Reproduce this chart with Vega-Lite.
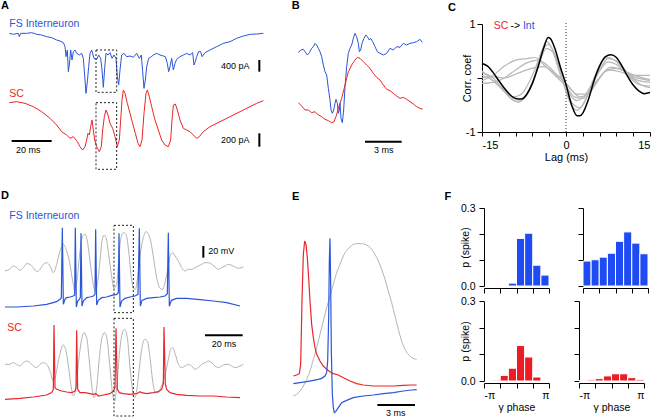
{
"$schema": "https://vega.github.io/schema/vega-lite/v6.json",
"padding": 0,
"background": "white",
"config": {"view": {"stroke": null}, "font": "Liberation Sans",
  "axis": {"domainColor": "black", "tickColor": "black", "labelColor": "black", "titleColor": "black", "grid": false, "labelFontSize": 11, "titleFontSize": 11, "titleFontWeight": "normal", "domainWidth": 1, "tickWidth": 1},
  "title": {"color": "black"}},
"spacing": 0,
"vconcat": [
{"hconcat": [
 {"width": 280, "height": 166,
  "encoding": {
   "x": {"field": "x", "type": "quantitative", "scale": {"domain": [0, 840], "nice": false, "zero": false}, "axis": null},
   "y": {"field": "y", "type": "quantitative", "scale": {"domain": [72, 570], "nice": false, "zero": false, "reverse": true}, "axis": null}},
  "layer": [
   {"data": {"values": [
    {"s":"int","x":28,"y":100},{"s":"int","x":40,"y":103},{"s":"int","x":55,"y":100},{"s":"int","x":58,"y":110},{"s":"int","x":62,"y":100},{"s":"int","x":80,"y":100},{"s":"int","x":95,"y":98},{"s":"int","x":110,"y":103},{"s":"int","x":125,"y":105},{"s":"int","x":140,"y":110},{"s":"int","x":155,"y":113},{"s":"int","x":170,"y":120},{"s":"int","x":180,"y":123},{"s":"int","x":190,"y":128},{"s":"int","x":195,"y":140},{"s":"int","x":198,"y":170},{"s":"int","x":202,"y":150},{"s":"int","x":205,"y":215},{"s":"int","x":208,"y":195},{"s":"int","x":212,"y":150},{"s":"int","x":216,"y":180},{"s":"int","x":220,"y":155},{"s":"int","x":225,"y":150},{"s":"int","x":230,"y":160},{"s":"int","x":238,"y":165},{"s":"int","x":245,"y":160},{"s":"int","x":250,"y":175},{"s":"int","x":255,"y":240},{"s":"int","x":258,"y":280},{"s":"int","x":262,"y":245},{"s":"int","x":266,"y":200},{"s":"int","x":270,"y":160},{"s":"int","x":275,"y":150},{"s":"int","x":282,"y":175},{"s":"int","x":290,"y":178},{"s":"int","x":296,"y":165},{"s":"int","x":302,"y":175},{"s":"int","x":306,"y":210},{"s":"int","x":310,"y":262},{"s":"int","x":314,"y":205},{"s":"int","x":318,"y":160},{"s":"int","x":324,"y":165},{"s":"int","x":330,"y":158},{"s":"int","x":336,"y":175},{"s":"int","x":342,"y":165},{"s":"int","x":348,"y":175},{"s":"int","x":352,"y":230},{"s":"int","x":356,"y":255},{"s":"int","x":360,"y":210},{"s":"int","x":365,"y":165},{"s":"int","x":372,"y":160},{"s":"int","x":380,"y":170},{"s":"int","x":390,"y":168},{"s":"int","x":400,"y":172},{"s":"int","x":410,"y":160},{"s":"int","x":418,"y":175},{"s":"int","x":424,"y":165},{"s":"int","x":428,"y":215},{"s":"int","x":432,"y":265},{"s":"int","x":436,"y":240},{"s":"int","x":440,"y":200},{"s":"int","x":446,"y":175},{"s":"int","x":454,"y":170},{"s":"int","x":460,"y":165},{"s":"int","x":470,"y":160},{"s":"int","x":480,"y":165},{"s":"int","x":490,"y":168},{"s":"int","x":496,"y":170},{"s":"int","x":502,"y":190},{"s":"int","x":506,"y":215},{"s":"int","x":510,"y":200},{"s":"int","x":515,"y":175},{"s":"int","x":520,"y":210},{"s":"int","x":525,"y":190},{"s":"int","x":530,"y":178},{"s":"int","x":540,"y":170},{"s":"int","x":550,"y":165},{"s":"int","x":560,"y":160},{"s":"int","x":570,"y":165},{"s":"int","x":578,"y":158},{"s":"int","x":582,"y":195},{"s":"int","x":586,"y":185},{"s":"int","x":590,"y":170},{"s":"int","x":596,"y":155},{"s":"int","x":602,"y":155},{"s":"int","x":606,"y":170},{"s":"int","x":615,"y":158},{"s":"int","x":630,"y":150},{"s":"int","x":650,"y":140},{"s":"int","x":670,"y":130},{"s":"int","x":690,"y":125},{"s":"int","x":710,"y":115},{"s":"int","x":730,"y":108},{"s":"int","x":750,"y":103},{"s":"int","x":770,"y":102},{"s":"int","x":790,"y":100},
    {"s":"sc","x":28,"y":308},{"s":"sc","x":50,"y":305},{"s":"sc","x":75,"y":310},{"s":"sc","x":100,"y":320},{"s":"sc","x":125,"y":335},{"s":"sc","x":150,"y":355},{"s":"sc","x":170,"y":375},{"s":"sc","x":185,"y":395},{"s":"sc","x":200,"y":405},{"s":"sc","x":210,"y":415},{"s":"sc","x":220,"y":410},{"s":"sc","x":232,"y":425},{"s":"sc","x":240,"y":440},{"s":"sc","x":248,"y":450},{"s":"sc","x":255,"y":440},{"s":"sc","x":260,"y":420},{"s":"sc","x":264,"y":400},{"s":"sc","x":268,"y":405},{"s":"sc","x":272,"y":380},{"s":"sc","x":276,"y":360},{"s":"sc","x":280,"y":390},{"s":"sc","x":284,"y":420},{"s":"sc","x":290,"y":440},{"s":"sc","x":298,"y":455},{"s":"sc","x":304,"y":440},{"s":"sc","x":308,"y":390},{"s":"sc","x":313,"y":350},{"s":"sc","x":318,"y":330},{"s":"sc","x":324,"y":345},{"s":"sc","x":330,"y":370},{"s":"sc","x":338,"y":385},{"s":"sc","x":345,"y":410},{"s":"sc","x":352,"y":440},{"s":"sc","x":358,"y":420},{"s":"sc","x":362,"y":360},{"s":"sc","x":366,"y":300},{"s":"sc","x":370,"y":270},{"s":"sc","x":375,"y":280},{"s":"sc","x":382,"y":310},{"s":"sc","x":390,"y":340},{"s":"sc","x":398,"y":370},{"s":"sc","x":406,"y":400},{"s":"sc","x":414,"y":430},{"s":"sc","x":420,"y":440},{"s":"sc","x":426,"y":420},{"s":"sc","x":432,"y":340},{"s":"sc","x":438,"y":280},{"s":"sc","x":442,"y":270},{"s":"sc","x":448,"y":290},{"s":"sc","x":455,"y":320},{"s":"sc","x":465,"y":360},{"s":"sc","x":475,"y":390},{"s":"sc","x":485,"y":420},{"s":"sc","x":495,"y":435},{"s":"sc","x":505,"y":440},{"s":"sc","x":512,"y":420},{"s":"sc","x":516,"y":360},{"s":"sc","x":520,"y":315},{"s":"sc","x":526,"y":312},{"s":"sc","x":532,"y":330},{"s":"sc","x":540,"y":360},{"s":"sc","x":550,"y":385},{"s":"sc","x":560,"y":390},{"s":"sc","x":570,"y":395},{"s":"sc","x":580,"y":405},{"s":"sc","x":590,"y":415},{"s":"sc","x":598,"y":410},{"s":"sc","x":610,"y":395},{"s":"sc","x":630,"y":380},{"s":"sc","x":660,"y":365},{"s":"sc","x":690,"y":350},{"s":"sc","x":720,"y":335},{"s":"sc","x":750,"y":320},{"s":"sc","x":770,"y":310},{"s":"sc","x":790,"y":302}
   ]},
    "mark": {"type": "line", "strokeWidth": 1},
    "encoding": {"detail": {"field": "s"}, "color": {"field": "s", "type": "nominal", "scale": {"domain": ["int","sc","k","lfp"], "range": ["#2b55d9","#e8262b","#000000","#b3b3b3"]}, "legend": null}}},
   {"data": {"values": [{"x":288,"x2":350,"y":150,"y2":277},{"x":288,"x2":350,"y":308,"y2":508}]},
    "mark": {"type": "rect", "fillOpacity": 0, "stroke": "#222222", "strokeWidth": 1, "strokeDash": [2,2]},
    "encoding": {"x2": {"field": "x2"}, "y2": {"field": "y2"}}},
   {"data": {"values": [{"x":35,"x2":155,"y":423,"y2":423},{"x":778,"x2":778,"y":180,"y2":215},{"x":778,"x2":778,"y":400,"y2":440}]},
    "mark": {"type": "rule", "strokeWidth": 2, "color": "black"},
    "encoding": {"x2": {"field": "x2"}, "y2": {"field": "y2"}}},
   {"data": {"values": [{"x":28,"y":72,"t":"FS Interneuron","s":"int"},{"x":28,"y":282,"t":"SC","s":"sc"}]},
    "mark": {"type": "text", "align": "left", "baseline": "middle", "fontSize": 10.5},
    "encoding": {"text": {"field": "t"}, "color": {"field": "s", "type": "nominal", "legend": null}}},
   {"data": {"values": [{"x":48,"y":450,"t":"20 ms"},{"x":663,"y":197,"t":"400 pA"},{"x":663,"y":420,"t":"200 pA"}]},
    "mark": {"type": "text", "align": "left", "baseline": "middle", "fontSize": 9, "color": "black"},
    "encoding": {"text": {"field": "t"}}},
   {"data": {"values": [{"x":3,"y":18,"t":"A"}]},
    "mark": {"type": "text", "align": "left", "baseline": "middle", "fontSize": 11, "fontWeight": "bold", "color": "black"},
    "encoding": {"text": {"field": "t"}}}
  ]},
 {"width": 168, "height": 166,
  "encoding": {
   "x": {"field": "x", "type": "quantitative", "scale": {"domain": [0, 504], "nice": false, "zero": false}, "axis": null},
   "y": {"field": "y", "type": "quantitative", "scale": {"domain": [72, 570], "nice": false, "zero": false, "reverse": true}, "axis": null}},
  "layer": [
   {"data": {"values": [
    {"s":"int","x":55,"y":158},{"s":"int","x":62,"y":150},{"s":"int","x":70,"y":148},{"s":"int","x":75,"y":155},{"s":"int","x":82,"y":165},{"s":"int","x":88,"y":158},{"s":"int","x":95,"y":145},{"s":"int","x":100,"y":140},{"s":"int","x":105,"y":130},{"s":"int","x":110,"y":135},{"s":"int","x":115,"y":145},{"s":"int","x":120,"y":155},{"s":"int","x":125,"y":170},{"s":"int","x":130,"y":195},{"s":"int","x":135,"y":215},{"s":"int","x":140,"y":225},{"s":"int","x":145,"y":265},{"s":"int","x":150,"y":300},{"s":"int","x":153,"y":330},{"s":"int","x":157,"y":340},{"s":"int","x":161,"y":330},{"s":"int","x":165,"y":310},{"s":"int","x":168,"y":298},{"s":"int","x":172,"y":310},{"s":"int","x":175,"y":340},{"s":"int","x":178,"y":330},{"s":"int","x":180,"y":310},{"s":"int","x":183,"y":355},{"s":"int","x":187,"y":368},{"s":"int","x":191,"y":330},{"s":"int","x":195,"y":260},{"s":"int","x":200,"y":200},{"s":"int","x":205,"y":160},{"s":"int","x":210,"y":145},{"s":"int","x":215,"y":135},{"s":"int","x":220,"y":115},{"s":"int","x":225,"y":100},{"s":"int","x":230,"y":110},{"s":"int","x":235,"y":130},{"s":"int","x":238,"y":155},{"s":"int","x":242,"y":150},{"s":"int","x":246,"y":130},{"s":"int","x":252,"y":115},{"s":"int","x":258,"y":105},{"s":"int","x":262,"y":110},{"s":"int","x":268,"y":120},{"s":"int","x":272,"y":115},{"s":"int","x":278,"y":125},{"s":"int","x":285,"y":140},{"s":"int","x":292,"y":155},{"s":"int","x":300,"y":160},{"s":"int","x":310,"y":165},{"s":"int","x":320,"y":160},{"s":"int","x":330,"y":145},{"s":"int","x":340,"y":150},{"s":"int","x":350,"y":140},{"s":"int","x":360,"y":142},{"s":"int","x":370,"y":130},{"s":"int","x":380,"y":135},{"s":"int","x":390,"y":130},{"s":"int","x":400,"y":128},{"s":"int","x":410,"y":125},{"s":"int","x":420,"y":118},{"s":"int","x":427,"y":127},
    {"s":"sc","x":55,"y":308},{"s":"sc","x":65,"y":318},{"s":"sc","x":75,"y":330},{"s":"sc","x":85,"y":330},{"s":"sc","x":95,"y":338},{"s":"sc","x":105,"y":335},{"s":"sc","x":115,"y":345},{"s":"sc","x":125,"y":350},{"s":"sc","x":135,"y":358},{"s":"sc","x":145,"y":362},{"s":"sc","x":155,"y":368},{"s":"sc","x":162,"y":365},{"s":"sc","x":168,"y":350},{"s":"sc","x":175,"y":325},{"s":"sc","x":185,"y":295},{"s":"sc","x":195,"y":255},{"s":"sc","x":205,"y":215},{"s":"sc","x":215,"y":195},{"s":"sc","x":225,"y":180},{"s":"sc","x":232,"y":172},{"s":"sc","x":240,"y":175},{"s":"sc","x":250,"y":185},{"s":"sc","x":260,"y":195},{"s":"sc","x":270,"y":205},{"s":"sc","x":280,"y":220},{"s":"sc","x":290,"y":232},{"s":"sc","x":300,"y":240},{"s":"sc","x":310,"y":255},{"s":"sc","x":320,"y":268},{"s":"sc","x":330,"y":272},{"s":"sc","x":340,"y":280},{"s":"sc","x":350,"y":288},{"s":"sc","x":360,"y":295},{"s":"sc","x":370,"y":292},{"s":"sc","x":380,"y":298},{"s":"sc","x":390,"y":305},{"s":"sc","x":400,"y":312},{"s":"sc","x":410,"y":320},{"s":"sc","x":420,"y":325},{"s":"sc","x":428,"y":327}
   ]},
    "mark": {"type": "line", "strokeWidth": 1},
    "encoding": {"detail": {"field": "s"}, "color": {"field": "s", "type": "nominal", "scale": {"domain": ["int","sc"], "range": ["#2b55d9","#e8262b"]}, "legend": null}}},
   {"data": {"values": [{"x":255,"x2":365,"y":425,"y2":425}]},
    "mark": {"type": "rule", "strokeWidth": 2, "color": "black"},
    "encoding": {"x2": {"field": "x2"}, "y2": {"field": "y2"}}},
   {"data": {"values": [{"x":282,"y":450,"t":"3 ms"}]},
    "mark": {"type": "text", "align": "left", "baseline": "middle", "fontSize": 9, "color": "black"},
    "encoding": {"text": {"field": "t"}}},
   {"data": {"values": [{"x":35,"y":18,"t":"B"}]},
    "mark": {"type": "text", "align": "left", "baseline": "middle", "fontSize": 11, "fontWeight": "bold", "color": "black"},
    "encoding": {"text": {"field": "t"}}}
  ]},
 {"width": 168, "height": 108,
  "title": {"text": "C", "anchor": "start", "frame": "group", "dx": -34, "offset": 5, "fontSize": 11, "fontWeight": "bold", "color": "black"},
  "encoding": {
   "x": {"field": "x", "type": "quantitative", "scale": {"domain": [-15, 15], "nice": false, "zero": false},
     "axis": {"values": [-15,-12,-9,-6,-3,0,3,6,9,12,15], "labelExpr": "datum.value == -15 ? '-15' : datum.value == 0 ? '0' : datum.value == 15 ? '15' : ''", "title": "Lag (ms)", "tickSize": 4, "labelPadding": 3, "titlePadding": 1, "labelFontSize": 11, "titleFontSize": 11}},
   "y": {"field": "y", "type": "quantitative", "scale": {"domain": [-1, 1], "nice": false, "zero": false},
     "axis": {"values": [-1, 0, 1], "labelExpr": "datum.value == 1 ? '1' : datum.value == -1 ? '-1' : ''", "title": "Corr. coef", "tickSize": 5, "labelPadding": 2, "titlePadding": -7, "labelFontSize": 11, "titleFontSize": 11}}},
  "layer": [
   {"data": {"values": [{"x":0,"y":-1,"y2":1.04}]},
    "mark": {"type": "rule", "strokeWidth": 1, "strokeDash": [1,2], "color": "#333333"},
    "encoding": {"y2": {"field": "y2"}}},
   {"data": {"values": [
    {"s":"g1","x":-15,"y":0.10},{"s":"g1","x":-13,"y":0.0},{"s":"g1","x":-11,"y":-0.25},{"s":"g1","x":-9,"y":-0.43},{"s":"g1","x":-8,"y":-0.42},{"s":"g1","x":-6,"y":-0.1},{"s":"g1","x":-4.5,"y":0.45},{"s":"g1","x":-3.5,"y":0.68},{"s":"g1","x":-2.5,"y":0.55},{"s":"g1","x":-1,"y":0.1},{"s":"g1","x":0.5,"y":-0.4},{"s":"g1","x":2,"y":-0.6},{"s":"g1","x":3.5,"y":-0.4},{"s":"g1","x":5,"y":0.0},{"s":"g1","x":6.5,"y":0.32},{"s":"g1","x":7.5,"y":0.38},{"s":"g1","x":9,"y":0.30},{"s":"g1","x":11,"y":0.05},{"s":"g1","x":13,"y":-0.12},{"s":"g1","x":15,"y":-0.15},
    {"s":"g2","x":-15,"y":0.05},{"s":"g2","x":-13,"y":-0.05},{"s":"g2","x":-11,"y":-0.22},{"s":"g2","x":-9.5,"y":-0.35},{"s":"g2","x":-8,"y":-0.30},{"s":"g2","x":-6,"y":0.05},{"s":"g2","x":-4,"y":0.55},{"s":"g2","x":-3.2,"y":0.62},{"s":"g2","x":-2,"y":0.45},{"s":"g2","x":-0.5,"y":0.0},{"s":"g2","x":1,"y":-0.35},{"s":"g2","x":2,"y":-0.42},{"s":"g2","x":3.5,"y":-0.30},{"s":"g2","x":5.5,"y":0.05},{"s":"g2","x":7.5,"y":0.30},{"s":"g2","x":9,"y":0.25},{"s":"g2","x":11,"y":0.05},{"s":"g2","x":13,"y":-0.05},{"s":"g2","x":15,"y":-0.08},
    {"s":"g3","x":-15,"y":-0.05},{"s":"g3","x":-13,"y":0.05},{"s":"g3","x":-11,"y":0.22},{"s":"g3","x":-9,"y":0.33},{"s":"g3","x":-7,"y":0.36},{"s":"g3","x":-5.5,"y":0.38},{"s":"g3","x":-4,"y":0.25},{"s":"g3","x":-2,"y":0.05},{"s":"g3","x":0,"y":-0.15},{"s":"g3","x":1.5,"y":-0.35},{"s":"g3","x":3,"y":-0.38},{"s":"g3","x":5,"y":-0.15},{"s":"g3","x":7,"y":0.12},{"s":"g3","x":9,"y":0.18},{"s":"g3","x":11,"y":0.10},{"s":"g3","x":13,"y":0.02},{"s":"g3","x":15,"y":-0.03},
    {"s":"g4","x":-15,"y":-0.1},{"s":"g4","x":-13,"y":-0.08},{"s":"g4","x":-11,"y":0.0},{"s":"g4","x":-9,"y":0.15},{"s":"g4","x":-7,"y":0.28},{"s":"g4","x":-5,"y":0.33},{"s":"g4","x":-3.5,"y":0.25},{"s":"g4","x":-2,"y":0.1},{"s":"g4","x":0,"y":-0.1},{"s":"g4","x":2,"y":-0.30},{"s":"g4","x":3.5,"y":-0.30},{"s":"g4","x":5.5,"y":-0.05},{"s":"g4","x":7.5,"y":0.15},{"s":"g4","x":9.5,"y":0.12},{"s":"g4","x":12,"y":0.02},{"s":"g4","x":15,"y":-0.05},
    {"s":"g5","x":-15,"y":0.0},{"s":"g5","x":-13,"y":0.02},{"s":"g5","x":-11,"y":0.0},{"s":"g5","x":-9,"y":0.07},{"s":"g5","x":-7,"y":0.15},{"s":"g5","x":-4,"y":0.21},{"s":"g5","x":-2,"y":0.08},{"s":"g5","x":0,"y":-0.10},{"s":"g5","x":2.5,"y":-0.35},{"s":"g5","x":4,"y":-0.30},{"s":"g5","x":6,"y":0.0},{"s":"g5","x":8,"y":0.2},{"s":"g5","x":10,"y":0.15},{"s":"g5","x":12,"y":0.05},{"s":"g5","x":15,"y":0.05},
    {"s":"g6","x":-15,"y":0.13},{"s":"g6","x":-12,"y":-0.15},{"s":"g6","x":-10,"y":-0.35},{"s":"g6","x":-8.5,"y":-0.45},{"s":"g6","x":-7,"y":-0.30},{"s":"g6","x":-5,"y":0.20},{"s":"g6","x":-3.5,"y":0.55},{"s":"g6","x":-2.5,"y":0.50},{"s":"g6","x":-1,"y":0.05},{"s":"g6","x":1,"y":-0.45},{"s":"g6","x":2.5,"y":-0.55},{"s":"g6","x":4,"y":-0.3},{"s":"g6","x":6,"y":0.15},{"s":"g6","x":7.5,"y":0.36},{"s":"g6","x":9,"y":0.32},{"s":"g6","x":11,"y":0.10},{"s":"g6","x":13,"y":-0.10},{"s":"g6","x":15,"y":-0.18}
   ]},
    "mark": {"type": "line", "strokeWidth": 1.2, "color": "#b8b8b8", "interpolate": "monotone"},
    "encoding": {"detail": {"field": "s"}}},
   {"data": {"values": [
    {"x":-15,"y":0.27},{"x":-14,"y":0.22},{"x":-13,"y":0.10},{"x":-12,"y":-0.05},{"x":-11,"y":-0.19},{"x":-10,"y":-0.31},{"x":-9,"y":-0.38},{"x":-8,"y":-0.39},{"x":-7,"y":-0.30},{"x":-6,"y":-0.10},{"x":-5,"y":0.20},{"x":-4,"y":0.55},{"x":-3.2,"y":0.75},{"x":-2.8,"y":0.73},{"x":-2,"y":0.55},{"x":-1,"y":0.20},{"x":0,"y":-0.12},{"x":1,"y":-0.50},{"x":2,"y":-0.70},{"x":2.5,"y":-0.70},{"x":3,"y":-0.65},{"x":4,"y":-0.40},{"x":5,"y":-0.05},{"x":6,"y":0.22},{"x":7,"y":0.39},{"x":8,"y":0.43},{"x":9,"y":0.38},{"x":10,"y":0.22},{"x":11,"y":0.03},{"x":12,"y":-0.13},{"x":13,"y":-0.24},{"x":14,"y":-0.29},{"x":15,"y":-0.27}
   ]},
    "mark": {"type": "line", "strokeWidth": 1.5, "color": "black", "interpolate": "monotone"}},
   {"data": {"values": [{"x":-12.9,"y":0.96,"t":"SC","s":"sc"},{"x":-9.9,"y":0.96,"t":"->","s":"k"},{"x":-7.7,"y":0.96,"t":"Int","s":"int"}]},
    "mark": {"type": "text", "align": "left", "baseline": "middle", "fontSize": 10.5},
    "encoding": {"text": {"field": "t"}, "color": {"field": "s", "type": "nominal", "scale": {"domain": ["sc","k","int"], "range": ["#e8262b","#000000","#2b55d9"]}, "legend": null}}}
  ]}
 ], "spacing": 0},
{"hconcat": [
 {"width": 280, "height": 210,
  "encoding": {
   "x": {"field": "x", "type": "quantitative", "scale": {"domain": [0, 840], "nice": false, "zero": false}, "axis": null},
   "y": {"field": "y", "type": "quantitative", "scale": {"domain": [21, 651], "nice": false, "zero": false, "reverse": true}, "axis": null}},
  "layer": [
   {"data": {"values": [
    {"s":"l1","x":15,"y":210},{"s":"l1","x":28,"y":205},{"s":"l1","x":40,"y":195},{"s":"l1","x":50,"y":200},{"s":"l1","x":60,"y":208},{"s":"l1","x":70,"y":200},{"s":"l1","x":80,"y":188},{"s":"l1","x":90,"y":190},{"s":"l1","x":100,"y":200},{"s":"l1","x":110,"y":212},{"s":"l1","x":120,"y":205},{"s":"l1","x":130,"y":190},{"s":"l1","x":140,"y":185},{"s":"l1","x":150,"y":195},{"s":"l1","x":160,"y":215},{"s":"l1","x":170,"y":190},{"s":"l1","x":180,"y":150},{"s":"l1","x":190,"y":130},{"s":"l1","x":200,"y":150},{"s":"l1","x":210,"y":190},{"s":"l1","x":218,"y":240},{"s":"l1","x":225,"y":270},{"s":"l1","x":232,"y":230},{"s":"l1","x":240,"y":150},{"s":"l1","x":248,"y":105},{"s":"l1","x":255,"y":100},{"s":"l1","x":262,"y":120},{"s":"l1","x":270,"y":180},{"s":"l1","x":278,"y":240},{"s":"l1","x":285,"y":268},{"s":"l1","x":292,"y":250},{"s":"l1","x":300,"y":180},{"s":"l1","x":306,"y":120},{"s":"l1","x":312,"y":103},{"s":"l1","x":318,"y":110},{"s":"l1","x":326,"y":160},{"s":"l1","x":334,"y":220},{"s":"l1","x":342,"y":262},{"s":"l1","x":350,"y":250},{"s":"l1","x":356,"y":180},{"s":"l1","x":362,"y":115},{"s":"l1","x":370,"y":95},{"s":"l1","x":378,"y":100},{"s":"l1","x":386,"y":150},{"s":"l1","x":394,"y":230},{"s":"l1","x":400,"y":262},{"s":"l1","x":406,"y":265},{"s":"l1","x":414,"y":220},{"s":"l1","x":422,"y":150},{"s":"l1","x":430,"y":110},{"s":"l1","x":438,"y":92},{"s":"l1","x":446,"y":100},{"s":"l1","x":454,"y":130},{"s":"l1","x":462,"y":180},{"s":"l1","x":470,"y":230},{"s":"l1","x":480,"y":262},{"s":"l1","x":488,"y":265},{"s":"l1","x":496,"y":240},{"s":"l1","x":504,"y":200},{"s":"l1","x":512,"y":160},{"s":"l1","x":518,"y":155},{"s":"l1","x":525,"y":165},{"s":"l1","x":535,"y":180},{"s":"l1","x":545,"y":200},{"s":"l1","x":555,"y":210},{"s":"l1","x":565,"y":205},{"s":"l1","x":575,"y":205},{"s":"l1","x":585,"y":200},{"s":"l1","x":595,"y":195},{"s":"l1","x":605,"y":190},{"s":"l1","x":615,"y":185},{"s":"l1","x":625,"y":185},{"s":"l1","x":635,"y":190},{"s":"l1","x":645,"y":198},{"s":"l1","x":655,"y":205},{"s":"l1","x":665,"y":200},{"s":"l1","x":675,"y":195},{"s":"l1","x":685,"y":190},{"s":"l1","x":695,"y":193},{"s":"l1","x":705,"y":198},{"s":"l1","x":715,"y":202},{"s":"l1","x":730,"y":198},
    {"s":"l2","x":15,"y":490},{"s":"l2","x":28,"y":490},{"s":"l2","x":40,"y":485},{"s":"l2","x":50,"y":490},{"s":"l2","x":60,"y":495},{"s":"l2","x":70,"y":485},{"s":"l2","x":80,"y":480},{"s":"l2","x":90,"y":485},{"s":"l2","x":100,"y":495},{"s":"l2","x":110,"y":500},{"s":"l2","x":120,"y":490},{"s":"l2","x":130,"y":485},{"s":"l2","x":140,"y":490},{"s":"l2","x":150,"y":510},{"s":"l2","x":160,"y":540},{"s":"l2","x":168,"y":520},{"s":"l2","x":175,"y":480},{"s":"l2","x":182,"y":450},{"s":"l2","x":190,"y":432},{"s":"l2","x":198,"y":450},{"s":"l2","x":206,"y":500},{"s":"l2","x":214,"y":560},{"s":"l2","x":220,"y":585},{"s":"l2","x":228,"y":560},{"s":"l2","x":236,"y":480},{"s":"l2","x":244,"y":420},{"s":"l2","x":252,"y":395},{"s":"l2","x":260,"y":410},{"s":"l2","x":268,"y":480},{"s":"l2","x":276,"y":560},{"s":"l2","x":282,"y":590},{"s":"l2","x":290,"y":560},{"s":"l2","x":298,"y":470},{"s":"l2","x":306,"y":410},{"s":"l2","x":314,"y":395},{"s":"l2","x":322,"y":420},{"s":"l2","x":330,"y":500},{"s":"l2","x":338,"y":580},{"s":"l2","x":344,"y":600},{"s":"l2","x":350,"y":560},{"s":"l2","x":358,"y":460},{"s":"l2","x":366,"y":400},{"s":"l2","x":374,"y":385},{"s":"l2","x":382,"y":410},{"s":"l2","x":390,"y":500},{"s":"l2","x":398,"y":570},{"s":"l2","x":404,"y":590},{"s":"l2","x":410,"y":570},{"s":"l2","x":418,"y":500},{"s":"l2","x":426,"y":440},{"s":"l2","x":434,"y":415},{"s":"l2","x":442,"y":420},{"s":"l2","x":450,"y":470},{"s":"l2","x":458,"y":540},{"s":"l2","x":466,"y":575},{"s":"l2","x":474,"y":575},{"s":"l2","x":482,"y":560},{"s":"l2","x":490,"y":540},{"s":"l2","x":498,"y":510},{"s":"l2","x":506,"y":470},{"s":"l2","x":512,"y":445},{"s":"l2","x":518,"y":440},{"s":"l2","x":526,"y":460},{"s":"l2","x":535,"y":490},{"s":"l2","x":545,"y":500},{"s":"l2","x":555,"y":495},{"s":"l2","x":565,"y":490},{"s":"l2","x":575,"y":495},{"s":"l2","x":585,"y":505},{"s":"l2","x":595,"y":500},{"s":"l2","x":605,"y":490},{"s":"l2","x":615,"y":485},{"s":"l2","x":625,"y":480},{"s":"l2","x":635,"y":485},{"s":"l2","x":645,"y":495},{"s":"l2","x":655,"y":500},{"s":"l2","x":665,"y":495},{"s":"l2","x":675,"y":490},{"s":"l2","x":685,"y":490},{"s":"l2","x":695,"y":495},{"s":"l2","x":705,"y":500},{"s":"l2","x":720,"y":495},{"s":"l2","x":730,"y":490}
   ]},
    "mark": {"type": "line", "strokeWidth": 1, "color": "#b3b3b3", "interpolate": "monotone"},
    "encoding": {"detail": {"field": "s"}}},
   {"data": {"values": [
    {"s":"int","x":15,"y":318},{"s":"int","x":50,"y":318},{"s":"int","x":100,"y":315},{"s":"int","x":140,"y":310},{"s":"int","x":170,"y":302},{"s":"int","x":180,"y":295},{"s":"int","x":184,"y":290},{"s":"int","x":187,"y":80},{"s":"int","x":190,"y":310},{"s":"int","x":195,"y":295},{"s":"int","x":200,"y":290},{"s":"int","x":210,"y":288},{"s":"int","x":220,"y":285},{"s":"int","x":224,"y":282},{"s":"int","x":226,"y":80},{"s":"int","x":229,"y":318},{"s":"int","x":233,"y":300},{"s":"int","x":238,"y":295},{"s":"int","x":241,"y":290},{"s":"int","x":243,"y":97},{"s":"int","x":246,"y":315},{"s":"int","x":250,"y":300},{"s":"int","x":260,"y":290},{"s":"int","x":270,"y":288},{"s":"int","x":280,"y":285},{"s":"int","x":285,"y":280},{"s":"int","x":287,"y":85},{"s":"int","x":290,"y":312},{"s":"int","x":295,"y":298},{"s":"int","x":305,"y":290},{"s":"int","x":320,"y":288},{"s":"int","x":335,"y":283},{"s":"int","x":350,"y":280},{"s":"int","x":355,"y":275},{"s":"int","x":357,"y":97},{"s":"int","x":360,"y":318},{"s":"int","x":365,"y":300},{"s":"int","x":375,"y":292},{"s":"int","x":390,"y":288},{"s":"int","x":405,"y":285},{"s":"int","x":414,"y":280},{"s":"int","x":418,"y":82},{"s":"int","x":421,"y":315},{"s":"int","x":426,"y":298},{"s":"int","x":440,"y":292},{"s":"int","x":460,"y":290},{"s":"int","x":480,"y":288},{"s":"int","x":495,"y":285},{"s":"int","x":502,"y":278},{"s":"int","x":505,"y":95},{"s":"int","x":508,"y":316},{"s":"int","x":514,"y":298},{"s":"int","x":530,"y":292},{"s":"int","x":560,"y":292},{"s":"int","x":600,"y":296},{"s":"int","x":640,"y":300},{"s":"int","x":680,"y":305},{"s":"int","x":720,"y":315},
    {"s":"sc","x":15,"y":595},{"s":"sc","x":60,"y":592},{"s":"sc","x":100,"y":588},{"s":"sc","x":140,"y":582},{"s":"sc","x":155,"y":575},{"s":"sc","x":160,"y":565},{"s":"sc","x":162,"y":372},{"s":"sc","x":165,"y":560},{"s":"sc","x":170,"y":565},{"s":"sc","x":185,"y":570},{"s":"sc","x":200,"y":573},{"s":"sc","x":215,"y":575},{"s":"sc","x":225,"y":570},{"s":"sc","x":228,"y":560},{"s":"sc","x":230,"y":388},{"s":"sc","x":233,"y":565},{"s":"sc","x":240,"y":575},{"s":"sc","x":255,"y":575},{"s":"sc","x":270,"y":578},{"s":"sc","x":280,"y":580},{"s":"sc","x":288,"y":578},{"s":"sc","x":295,"y":585},{"s":"sc","x":310,"y":582},{"s":"sc","x":330,"y":578},{"s":"sc","x":340,"y":570},{"s":"sc","x":345,"y":560},{"s":"sc","x":348,"y":382},{"s":"sc","x":352,"y":565},{"s":"sc","x":358,"y":575},{"s":"sc","x":370,"y":578},{"s":"sc","x":390,"y":580},{"s":"sc","x":410,"y":578},{"s":"sc","x":420,"y":572},{"s":"sc","x":425,"y":575},{"s":"sc","x":440,"y":578},{"s":"sc","x":460,"y":575},{"s":"sc","x":475,"y":572},{"s":"sc","x":485,"y":565},{"s":"sc","x":490,"y":548},{"s":"sc","x":492,"y":378},{"s":"sc","x":496,"y":550},{"s":"sc","x":500,"y":565},{"s":"sc","x":510,"y":575},{"s":"sc","x":530,"y":580},{"s":"sc","x":560,"y":583},{"s":"sc","x":600,"y":585},{"s":"sc","x":640,"y":585},{"s":"sc","x":680,"y":588},{"s":"sc","x":720,"y":590}
   ]},
    "mark": {"type": "line", "strokeWidth": 1.2},
    "encoding": {"detail": {"field": "s"}, "color": {"field": "s", "type": "nominal", "scale": {"domain": ["int","sc"], "range": ["#2b55d9","#e8262b"]}, "legend": null}}},
   {"data": {"values": [{"x":342,"x2":400,"y":73,"y2":335},{"x":342,"x2":400,"y":352,"y2":645}]},
    "mark": {"type": "rect", "fillOpacity": 0, "stroke": "#222222", "strokeWidth": 1, "strokeDash": [2,2]},
    "encoding": {"x2": {"field": "x2"}, "y2": {"field": "y2"}}},
   {"data": {"values": [{"x":610,"x2":610,"y":135,"y2":170},{"x":615,"x2":728,"y":403,"y2":403}]},
    "mark": {"type": "rule", "strokeWidth": 2, "color": "black"},
    "encoding": {"x2": {"field": "x2"}, "y2": {"field": "y2"}}},
   {"data": {"values": [{"x":28,"y":45,"t":"FS Interneuron","s":"int"},{"x":22,"y":382,"t":"SC","s":"sc"}]},
    "mark": {"type": "text", "align": "left", "baseline": "middle", "fontSize": 10.5},
    "encoding": {"text": {"field": "t"}, "color": {"field": "s", "type": "nominal", "legend": null}}},
   {"data": {"values": [{"x":625,"y":150,"t":"20 mV"},{"x":635,"y":430,"t":"20 ms"}]},
    "mark": {"type": "text", "align": "left", "baseline": "middle", "fontSize": 9, "color": "black"},
    "encoding": {"text": {"field": "t"}}},
   {"data": {"values": [{"x":3,"y":-15,"t":"D"}]},
    "mark": {"type": "text", "align": "left", "baseline": "middle", "fontSize": 11, "fontWeight": "bold", "color": "black"},
    "encoding": {"text": {"field": "t"}}}
  ]},
 {"width": 164, "height": 210,
  "encoding": {
   "x": {"field": "x", "type": "quantitative", "scale": {"domain": [0, 492], "nice": false, "zero": false}, "axis": null},
   "y": {"field": "y", "type": "quantitative", "scale": {"domain": [21, 651], "nice": false, "zero": false, "reverse": true}, "axis": null}},
  "layer": [
   {"data": {"values": [
    {"x":40,"y":585},{"x":50,"y":580},{"x":60,"y":570},{"x":70,"y":555},{"x":80,"y":535},{"x":90,"y":510},{"x":100,"y":475},{"x":110,"y":440},{"x":120,"y":400},{"x":130,"y":360},{"x":140,"y":320},{"x":150,"y":285},{"x":160,"y":250},{"x":170,"y":215},{"x":180,"y":190},{"x":190,"y":165},{"x":200,"y":148},{"x":210,"y":138},{"x":220,"y":130},{"x":230,"y":128},{"x":245,"y":128},{"x":255,"y":130},{"x":265,"y":135},{"x":275,"y":145},{"x":285,"y":160},{"x":295,"y":180},{"x":305,"y":205},{"x":315,"y":235},{"x":325,"y":270},{"x":335,"y":305},{"x":345,"y":345},{"x":355,"y":385},{"x":365,"y":420},{"x":375,"y":445},{"x":385,"y":460},{"x":395,"y":470},{"x":410,"y":475}
   ]},
    "mark": {"type": "line", "strokeWidth": 1, "color": "#b3b3b3", "interpolate": "monotone"}},
   {"data": {"values": [
    {"s":"sc","x":40,"y":525},{"s":"sc","x":50,"y":522},{"s":"sc","x":58,"y":518},{"s":"sc","x":62,"y":490},{"s":"sc","x":66,"y":300},{"s":"sc","x":70,"y":160},{"s":"sc","x":74,"y":120},{"s":"sc","x":78,"y":130},{"s":"sc","x":82,"y":170},{"s":"sc","x":86,"y":230},{"s":"sc","x":90,"y":300},{"s":"sc","x":95,"y":370},{"s":"sc","x":100,"y":410},{"s":"sc","x":105,"y":440},{"s":"sc","x":110,"y":460},{"s":"sc","x":120,"y":480},{"s":"sc","x":130,"y":495},{"s":"sc","x":140,"y":505},{"s":"sc","x":150,"y":512},{"s":"sc","x":160,"y":518},{"s":"sc","x":175,"y":522},{"s":"sc","x":190,"y":530},{"s":"sc","x":210,"y":540},{"s":"sc","x":230,"y":548},{"s":"sc","x":250,"y":552},{"s":"sc","x":280,"y":555},{"s":"sc","x":310,"y":555},{"s":"sc","x":340,"y":555},{"s":"sc","x":370,"y":553},{"s":"sc","x":395,"y":552},{"s":"sc","x":410,"y":552},
    {"s":"int","x":40,"y":548},{"s":"int","x":60,"y":545},{"s":"int","x":80,"y":542},{"s":"int","x":100,"y":538},{"s":"int","x":115,"y":535},{"s":"int","x":125,"y":532},{"s":"int","x":135,"y":525},{"s":"int","x":140,"y":515},{"s":"int","x":143,"y":480},{"s":"int","x":146,"y":350},{"s":"int","x":148,"y":180},{"s":"int","x":150,"y":112},{"s":"int","x":152,"y":250},{"s":"int","x":154,"y":450},{"s":"int","x":157,"y":580},{"s":"int","x":160,"y":620},{"s":"int","x":163,"y":635},{"s":"int","x":167,"y":632},{"s":"int","x":175,"y":620},{"s":"int","x":185,"y":605},{"s":"int","x":200,"y":598},{"s":"int","x":220,"y":590},{"s":"int","x":250,"y":585},{"s":"int","x":280,"y":582},{"s":"int","x":310,"y":578},{"s":"int","x":340,"y":575},{"s":"int","x":370,"y":570},{"s":"int","x":395,"y":567},{"s":"int","x":410,"y":566}
   ]},
    "mark": {"type": "line", "strokeWidth": 1.2},
    "encoding": {"detail": {"field": "s"}, "color": {"field": "s", "type": "nominal", "scale": {"domain": ["int","sc"], "range": ["#2b55d9","#e8262b"]}, "legend": null}}},
   {"data": {"values": [{"x":292,"x2":405,"y":612,"y2":612}]},
    "mark": {"type": "rule", "strokeWidth": 2, "color": "black"},
    "encoding": {"x2": {"field": "x2"}, "y2": {"field": "y2"}}},
   {"data": {"values": [{"x":318,"y":635,"t":"3 ms"}]},
    "mark": {"type": "text", "align": "left", "baseline": "middle", "fontSize": 9, "color": "black"},
    "encoding": {"text": {"field": "t"}}},
   {"data": {"values": [{"x":36,"y":-12,"t":"E"}]},
    "mark": {"type": "text", "align": "left", "baseline": "middle", "fontSize": 11, "fontWeight": "bold", "color": "black"},
    "encoding": {"text": {"field": "t"}}}
  ]},
 {"title": {"text": "F", "anchor": "start", "frame": "bounds", "dx": -16, "offset": 1, "fontSize": 11, "fontWeight": "bold", "color": "black"},
  "spacing": 2,
  "vconcat": [
   {"spacing": 27, "hconcat": [
    {"width": 65, "height": 78,
     "data": {"values": [{"lo":-0.7854,"hi":0,"p":0.011},{"lo":0,"hi":0.7854,"p":0.183},{"lo":0.7854,"hi":1.5708,"p":0.203},{"lo":1.5708,"hi":2.3562,"p":0.080},{"lo":2.3562,"hi":3.14159,"p":0.042}]},
     "mark": {"type": "rect", "fill": "#1f4cf2", "stroke": "white", "strokeWidth": 1},
     "encoding": {
      "x": {"field": "lo", "type": "quantitative", "scale": {"domain": [-3.14159, 3.14159], "nice": false, "zero": false}, "axis": {"values": [-3.14159,-1.5708,0,1.5708,3.14159], "labels": false, "title": null, "tickSize": 5, "offset": 2}},
      "x2": {"field": "hi"},
      "y": {"field": "p", "type": "quantitative", "scale": {"domain": [0, 0.3], "nice": false}, "axis": {"values": [0, 0.1, 0.2, 0.3], "labelExpr": "datum.value == 0 ? '0.0' : datum.value > 0.29 ? '0.3' : ''", "title": "p (spike)", "tickSize": 5, "labelPadding": 4, "titlePadding": -10, "labelFontSize": 10.5, "titleFontSize": 10.5}},
      "y2": {"datum": 0}}},
    {"width": 65, "height": 78,
     "data": {"values": [{"lo":-3.14159,"hi":-2.3562,"p":0.096},{"lo":-2.3562,"hi":-1.5708,"p":0.101},{"lo":-1.5708,"hi":-0.7854,"p":0.111},{"lo":-0.7854,"hi":0,"p":0.126},{"lo":0,"hi":0.7854,"p":0.172},{"lo":0.7854,"hi":1.5708,"p":0.208},{"lo":1.5708,"hi":2.3562,"p":0.165},{"lo":2.3562,"hi":3.14159,"p":0.124}]},
     "mark": {"type": "rect", "fill": "#1f4cf2", "stroke": "white", "strokeWidth": 1},
     "encoding": {
      "x": {"field": "lo", "type": "quantitative", "scale": {"domain": [-3.14159, 3.14159], "nice": false, "zero": false}, "axis": {"values": [-3.14159,-1.5708,0,1.5708,3.14159], "labels": false, "title": null, "tickSize": 5, "offset": 2}},
      "x2": {"field": "hi"},
      "y": {"field": "p", "type": "quantitative", "scale": {"domain": [0, 0.3], "nice": false}, "axis": {"values": [0, 0.1, 0.2, 0.3], "labels": false, "title": null, "tickSize": 5}},
      "y2": {"datum": 0}}}
   ]},
   {"spacing": 23, "hconcat": [
    {"width": 65, "height": 80,
     "data": {"values": [{"lo":-2.3562,"hi":-1.5708,"p":0.003},{"lo":-1.5708,"hi":-0.7854,"p":0.021},{"lo":-0.7854,"hi":0,"p":0.048},{"lo":0,"hi":0.7854,"p":0.133},{"lo":0.7854,"hi":1.5708,"p":0.090},{"lo":1.5708,"hi":2.3562,"p":0.015}]},
     "mark": {"type": "rect", "fill": "#ec1c24", "stroke": "white", "strokeWidth": 1},
     "encoding": {
      "x": {"field": "lo", "type": "quantitative", "scale": {"domain": [-3.14159, 3.14159], "nice": false, "zero": false}, "axis": {"values": [-3.14159,-1.5708,0,1.5708,3.14159], "labelExpr": "datum.value < -3 ? '-π' : datum.value > 3 ? 'π' : ''", "title": "γ phase", "tickSize": 5, "offset": 2, "labelPadding": 2, "titlePadding": 2, "labelFontSize": 10.5, "titleFontSize": 10.5}},
      "x2": {"field": "hi"},
      "y": {"field": "p", "type": "quantitative", "scale": {"domain": [0, 0.3], "nice": false}, "axis": {"values": [0, 0.1, 0.2, 0.3], "labelExpr": "datum.value == 0 ? '0.0' : datum.value > 0.29 ? '0.3' : ''", "title": "p (spike)", "tickSize": 5, "labelPadding": 4, "titlePadding": -10, "labelFontSize": 10.5, "titleFontSize": 10.5}},
      "y2": {"datum": 0}}},
    {"width": 65, "height": 80,
     "data": {"values": [{"lo":-3.14159,"hi":-2.3562,"p":0.001},{"lo":-2.3562,"hi":-1.5708,"p":0.004},{"lo":-1.5708,"hi":-0.7854,"p":0.009},{"lo":-0.7854,"hi":0,"p":0.019},{"lo":0,"hi":0.7854,"p":0.027},{"lo":0.7854,"hi":1.5708,"p":0.027},{"lo":1.5708,"hi":2.3562,"p":0.0125},{"lo":2.3562,"hi":3.14159,"p":0.005}]},
     "mark": {"type": "rect", "fill": "#ec1c24", "stroke": "white", "strokeWidth": 1},
     "encoding": {
      "x": {"field": "lo", "type": "quantitative", "scale": {"domain": [-3.14159, 3.14159], "nice": false, "zero": false}, "axis": {"values": [-3.14159,-1.5708,0,1.5708,3.14159], "labelExpr": "datum.value < -3 ? '-π' : datum.value > 3 ? 'π' : ''", "title": "γ phase", "tickSize": 5, "offset": 2, "labelPadding": 2, "titlePadding": 2, "labelFontSize": 10.5, "titleFontSize": 10.5}},
      "x2": {"field": "hi"},
      "y": {"field": "p", "type": "quantitative", "scale": {"domain": [0, 0.3], "nice": false}, "axis": {"values": [0, 0.1, 0.2, 0.3], "labels": false, "title": null, "tickSize": 5}},
      "y2": {"datum": 0}}}
   ]}
  ]}
 ], "spacing": 0}
]
}
